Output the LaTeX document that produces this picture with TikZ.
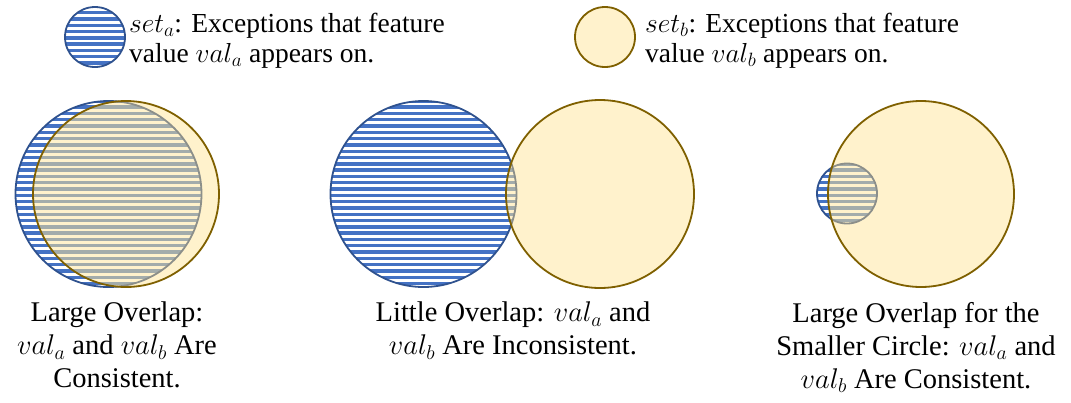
\RequirePackage{fix-cm}
\documentclass[tikz,border=0pt]{standalone}
\usepackage{fontspec}
\IfFontExistsTF{LiberationSerif-Regular.ttf}
  {\setmainfont{LiberationSerif-Regular.ttf}[ItalicFont=LiberationSerif-Italic.ttf, BoldFont=LiberationSerif-Bold.ttf]}
  {\setmainfont{Liberation Serif}}
\definecolor{stripeblue}{HTML}{4472C4}
\definecolor{edgeblue}{HTML}{2F528F}
\definecolor{fillyellow}{HTML}{FFF2CC}
\definecolor{edgeyellow}{HTML}{7F6000}
\definecolor{stripegray}{HTML}{A3ACAB}
\definecolor{edgegray}{HTML}{8C8F8A}
\tikzset{
  stripes/.style={line width=3.4pt},
  blueedge/.style={draw=edgeblue, line width=1.8pt},
  yellowedge/.style={draw=edgeyellow, line width=1.8pt},
  legendtext/.style={anchor=north west, inner sep=0pt, align=left, font=\rmfamily\fontsize{27.5}{30}\selectfont},
  captext/.style={anchor=north, inner sep=0pt, align=center, font=\rmfamily\fontsize{28.5}{33}\selectfont}
}
% blue striped disc: #1 centre, #2 radius
\newcommand{\stripeddisc}[3]{%
  \fill[white] (#1) circle (#2);
  \begin{scope}
    \clip (#1) circle (#2);
    \foreach \k in {0,...,64} \draw[stripes, #3] (0,\k*6.3) -- (1071,\k*6.3);
  \end{scope}}
% two overlapping circles: blue (#1,#2) under yellow (#3,#4)
\newcommand{\overlappair}[4]{%
  \stripeddisc{#1}{#2}{stripeblue}
  \draw[blueedge] (#1) circle (#2);
  \fill[fillyellow] (#3) circle (#4);
  \begin{scope}
    \clip (#3) circle (#4);
    \clip (#1) circle (#2);
    \foreach \k in {0,...,64} \draw[stripes, stripegray] (0,\k*6.3) -- (1071,\k*6.3);
  \end{scope}
  \begin{scope}
    \clip (#3) circle (#4);
    \draw[edgegray, line width=1.8pt] (#1) circle (#2);
  \end{scope}
  \draw[yellowedge] (#3) circle (#4);}
\begin{document}
\begin{tikzpicture}[x=1pt, y=-1pt]
\useasboundingbox (0,0) rectangle (1071,402);
% legend
\coordinate (la) at (95,37);
\coordinate (lb) at (605,37);
\stripeddisc{la}{30pt}{stripeblue}
\draw[blueedge] (la) circle (30pt);
\fill[fillyellow] (lb) circle (30pt);
\draw[yellowedge] (lb) circle (30pt);
\node[legendtext] (ta) at (129,12.5) {$set_a$: Exceptions that feature\\value $val_a$ appears on.};
\node[legendtext] (tb) at (645,12.5) {$set_b$: Exceptions that feature\\value $val_b$ appears on.};
% diagram 1
\coordinate (b1) at (108.5,194);
\coordinate (y1) at (126,194);
\overlappair{b1}{93pt}{y1}{93pt}
% diagram 2
\coordinate (b2) at (423.5,194);
\coordinate (y2) at (600,194);
\overlappair{b2}{93pt}{y2}{94pt}
% diagram 3
\coordinate (b3) at (847,193.5);
\coordinate (y3) at (921,194);
\overlappair{b3}{30pt}{y3}{93pt}
% captions
\node[captext] (c1) at (117,302) {Large Overlap:\\$val_a$ and $val_b$ Are\\Consistent.};
\node[captext] (c2) at (513,302) {Little Overlap: $val_a$ and\\$val_b$ Are Inconsistent.};
\node[captext] (c3) at (916,302) {Large Overlap for the\\Smaller Circle: $val_a$ and\\$val_b$ Are Consistent.};
\end{tikzpicture}
\end{document}
